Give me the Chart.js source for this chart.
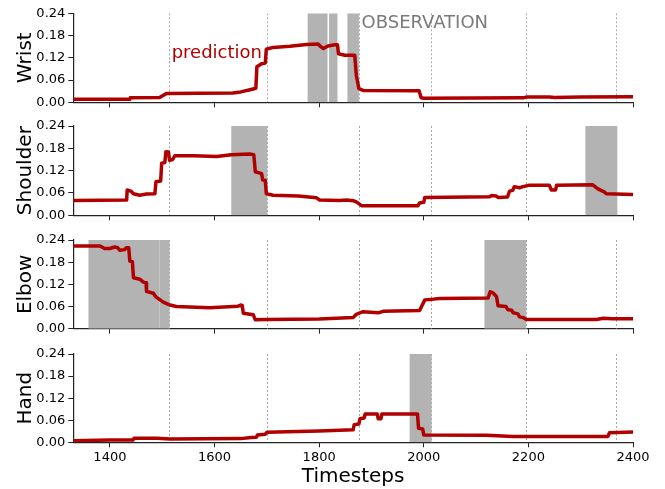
<!DOCTYPE html>
<html><head><meta charset="utf-8">
<script src="https://cdn.jsdelivr.net/npm/chart.js@4/dist/chart.umd.min.js"></script>
<style>
body{margin:0;background:#fff;width:665px;height:489px;overflow:hidden;position:relative;font-family:"DejaVu Sans",sans-serif}
canvas{position:absolute;left:0}
</style></head><body>
<canvas id="c0" width="665" height="114" style="top:0px"></canvas>
<canvas id="c1" width="665" height="114" style="top:114px"></canvas>
<canvas id="c2" width="665" height="114" style="top:228px"></canvas>
<canvas id="c3" width="665" height="147" style="top:342px"></canvas>
<script>
// ---------- data ----------
const panelNames = ['Wrist','Shoulder','Elbow','Hand'];
const xTicks = [1400,1600,1800,2000,2200,2400];
const yTicks = [0,0.06,0.12,0.18,0.24];
const eventMarks = [1513,1700,1876,2014,2195,2368];

const wristX = [1330,1438,1439,1495,1508,1635,1650,1668,1679,1681,1690,1697,1699,1712,1744,1776,1798,1803,1808,1817,1830,1835,1837,1849,1868,1871,1876,1884,1991,1995,2000,2190,2196,2240,2250,2300,2400];
const wristY = [0.008,0.008,0.012,0.013,0.024,0.025,0.028,0.034,0.038,0.096,0.104,0.106,0.143,0.148,0.151,0.156,0.157,0.150,0.145,0.152,0.155,0.155,0.131,0.127,0.127,0.073,0.037,0.032,0.031,0.012,0.011,0.012,0.014,0.014,0.013,0.014,0.015];
const wristObs = [[1778,1816],[1819,1835],[1854,1876]];

const shoulderX = [1330,1432,1433,1440,1445,1457,1470,1486,1488,1497,1499,1505,1507,1512,1514,1520,1524,1560,1604,1632,1667,1675,1678,1690,1692,1697,1699,1712,1760,1795,1801,1839,1852,1866,1871,1881,1989,1992,2000,2002,2126,2130,2138,2142,2160,2164,2170,2173,2183,2190,2202,2240,2244,2252,2254,2323,2333,2345,2349,2400];
const shoulderY = [0.040,0.041,0.068,0.065,0.058,0.054,0.057,0.058,0.090,0.092,0.140,0.142,0.171,0.170,0.148,0.150,0.160,0.160,0.158,0.163,0.165,0.163,0.117,0.112,0.095,0.094,0.058,0.054,0.052,0.047,0.041,0.040,0.041,0.039,0.036,0.026,0.026,0.033,0.035,0.048,0.050,0.053,0.052,0.048,0.049,0.065,0.067,0.077,0.074,0.077,0.081,0.081,0.068,0.068,0.081,0.082,0.071,0.063,0.058,0.056];
const shoulderObs = [[1632,1701],[2309,2370]];

const elbowX = [1330,1381,1390,1400,1409,1415,1419,1428,1431,1436,1438,1443,1445,1457,1464,1469,1470,1483,1488,1492,1502,1515,1527,1591,1645,1650,1653,1655,1674,1678,1699,1800,1865,1871,1884,1913,1922,1992,2002,2018,2030,2123,2127,2132,2139,2142,2157,2161,2168,2171,2180,2183,2190,2196,2330,2343,2360,2400];
const elbowY = [0.224,0.224,0.217,0.217,0.221,0.219,0.212,0.214,0.219,0.219,0.183,0.181,0.138,0.134,0.126,0.124,0.101,0.096,0.086,0.082,0.072,0.064,0.060,0.057,0.061,0.064,0.063,0.042,0.038,0.024,0.025,0.026,0.030,0.039,0.046,0.043,0.047,0.049,0.078,0.080,0.082,0.083,0.100,0.097,0.087,0.062,0.060,0.051,0.050,0.043,0.040,0.032,0.030,0.025,0.025,0.028,0.027,0.027];
const elbowObs = [[1359,1494.8],[1494.8,1514],[2116,2196]];

const handX = [1330,1400,1444,1446,1490,1515,1650,1670,1680,1682,1697,1700,1800,1865,1867,1876,1878,1886,1888,1911,1913,1918,1920,1988,1990,1998,2000,2120,2170,2352,2355,2400];
const handY = [0.004,0.006,0.006,0.011,0.011,0.009,0.010,0.013,0.014,0.020,0.022,0.027,0.031,0.034,0.048,0.050,0.064,0.066,0.077,0.077,0.064,0.064,0.077,0.077,0.038,0.036,0.020,0.019,0.016,0.016,0.026,0.028];
const handObs = [[1973,2015]];

// ---------- rendering ----------
Chart.defaults.font.family = '"DejaVu Sans", sans-serif';
Chart.defaults.color = '#000';

const bandsPlugin = {
  id: 'bands',
  beforeDatasetsDraw(chart, args, opts) {
    const {ctx, chartArea: a, scales: {x}} = chart;
    ctx.save();
    ctx.beginPath(); ctx.rect(a.left, a.top, a.right - a.left, a.bottom - a.top); ctx.clip();
    ctx.strokeStyle = '#a8a8a8'; ctx.lineWidth = 1; ctx.setLineDash([2, 2]);
    (opts.marks || []).forEach(v => {
      const px = Math.round(x.getPixelForValue(v)) + 0.5;
      ctx.beginPath(); ctx.moveTo(px, a.top); ctx.lineTo(px, a.bottom); ctx.stroke();
    });
    ctx.setLineDash([]);
    ctx.fillStyle = '#b3b3b3';
    (opts.obs || []).forEach(([s, e]) => {
      const x0 = x.getPixelForValue(s), x1 = x.getPixelForValue(e);
      ctx.fillRect(x0, a.top, x1 - x0, a.bottom - a.top);
    });
    ctx.restore();
  },
  afterDatasetsDraw(chart, args, opts) {
    const {ctx, scales: {x, y}} = chart;
    (opts.notes || []).forEach(n => {
      ctx.save();
      ctx.font = '18px "DejaVu Sans", sans-serif';
      ctx.fillStyle = n.color; ctx.textAlign = 'left'; ctx.textBaseline = 'alphabetic';
      ctx.fillText(n.text, x.getPixelForValue(n.x), y.getPixelForValue(n.y));
      ctx.restore();
    });
  }
};

const panels = [
  {x: wristX, y: wristY, obs: wristObs, padTop: 13.3, xh: 11.7,
   notes: [{text: 'prediction', x: 1518, y: 0.119, color: '#b00000'},
           {text: 'OBSERVATION', x: 1881, y: 0.2, color: '#7a7a7a'}]},
  {x: shoulderX, y: shoulderY, obs: shoulderObs, padTop: 12, xh: 12.7, notes: []},
  {x: elbowX, y: elbowY, obs: elbowObs, padTop: 12, xh: 13.3, notes: []},
  {x: handX, y: handY, obs: handObs, padTop: 12, xh: 46.7, notes: [], last: true}
];

panels.forEach((p, i) => {
  new Chart(document.getElementById('c' + i), {
    type: 'line',
    data: {
      datasets: [{
        data: p.x.map((v, k) => ({x: v, y: p.y[k]})),
        borderColor: '#b00000', borderWidth: 3.5, pointRadius: 0,
        tension: 0, borderJoinStyle: 'round', borderCapStyle: 'round', fill: false
      }]
    },
    options: {
      responsive: false, animation: false,
      layout: {padding: {left: 0, right: 32, top: p.padTop, bottom: 0}},
      plugins: {legend: {display: false}, tooltip: {enabled: false},
        bands: {obs: p.obs, marks: eventMarks, notes: p.notes}},
      scales: {
        x: {
          type: 'linear', min: 1330, max: 2400,
          afterBuildTicks: s => { s.ticks = xTicks.map(v => ({value: v})); },
          afterFit: s => { s.height = p.xh; },
          ticks: {display: !!p.last, padding: 3, font: {size: 13}, color: '#000',
                  callback: v => String(v)},
          grid: {display: true, drawOnChartArea: false, drawTicks: true, tickLength: 5, color: '#222', tickWidth: 1},
          border: {display: true, color: '#222', width: 1.2},
          title: {display: !!p.last, text: 'Timesteps', font: {size: 20}, color: '#000',
                  padding: {top: 0, bottom: 0}}
        },
        y: {
          type: 'linear', min: 0, max: 0.24,
          afterBuildTicks: s => { s.ticks = yTicks.map(v => ({value: v})); },
          afterFit: s => { s.width = 73.3; },
          ticks: {padding: 3, font: {size: 13}, color: '#000', callback: v => v.toFixed(2)},
          grid: {display: true, drawOnChartArea: false, drawTicks: true, tickLength: 5, color: '#222', tickWidth: 1},
          border: {display: true, color: '#222', width: 1.2},
          title: {display: true, text: panelNames[i], font: {size: 20}, color: '#000',
                  padding: {top: 14, bottom: 0}}
        }
      }
    },
    plugins: [bandsPlugin]
  });
});
</script>
</body></html>
